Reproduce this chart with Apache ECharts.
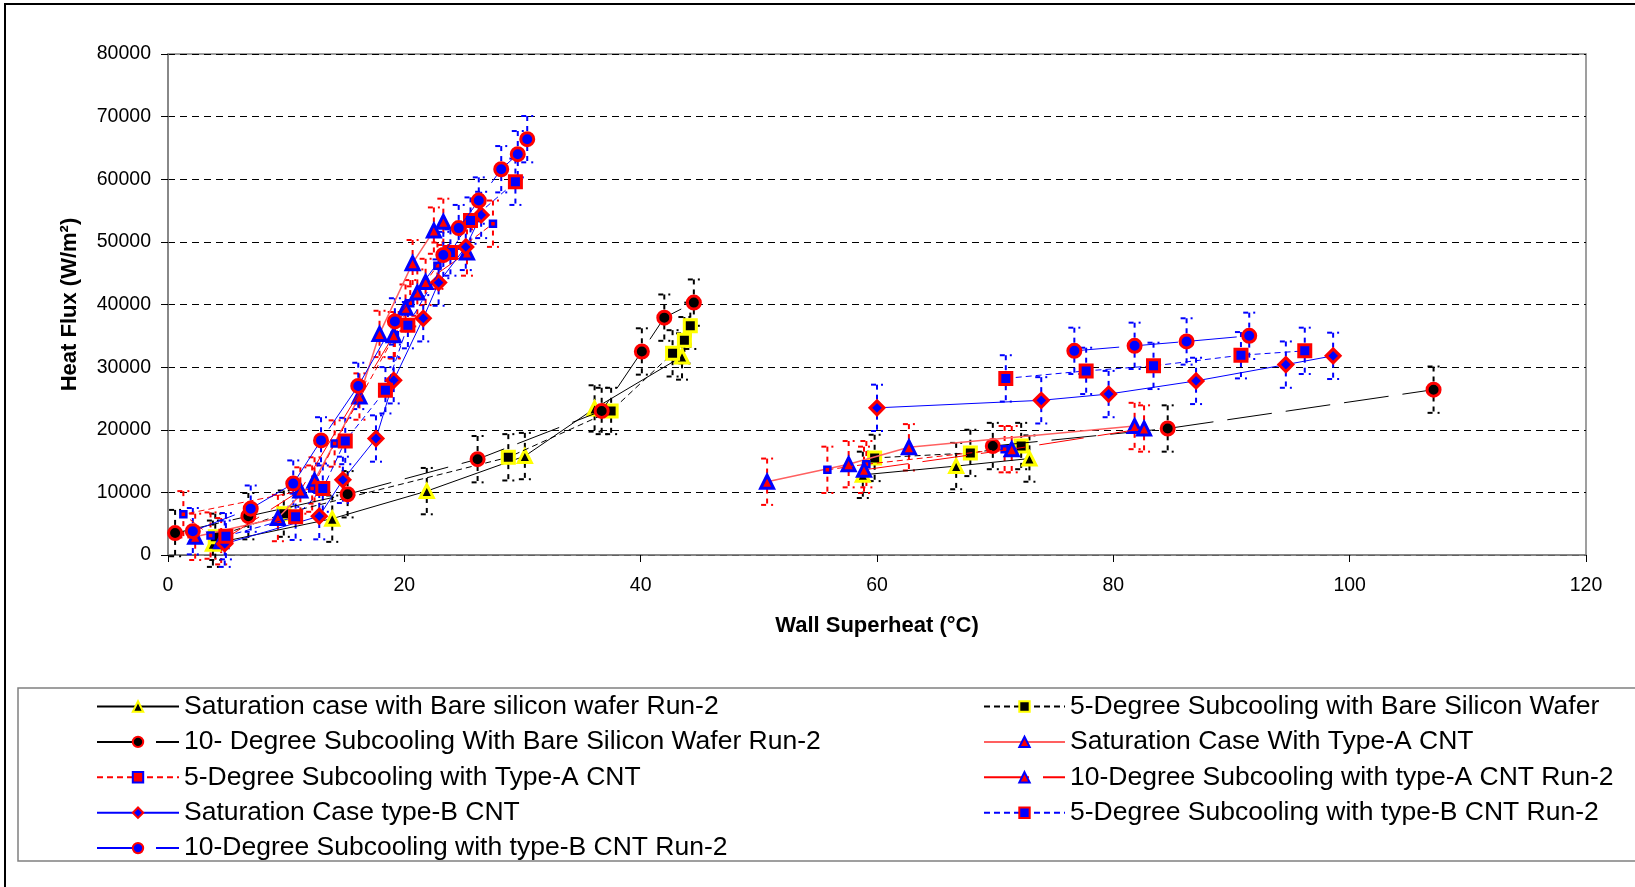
<!DOCTYPE html>
<html><head><meta charset="utf-8">
<script src="https://cdn.jsdelivr.net/npm/echarts@6/dist/echarts.min.js"></script>
<style>html,body{margin:0;padding:0;background:#fff}#c{width:1635px;height:887px}</style>
</head><body><div id="c"></div>
<script>
// ---------- DATA ----------
const seriesNames = [
  'Saturation case with Bare silicon wafer Run-2',
  '5-Degree Subcooling with Bare Silicon Wafer',
  '10- Degree Subcooling With Bare Silicon Wafer Run-2',
  'Saturation Case With Type-A CNT',
  '5-Degree Subcooling with Type-A CNT',
  '10-Degree Subcooling with type-A CNT Run-2',
  'Saturation Case type-B CNT',
  '5-Degree Subcooling with type-B CNT Run-2',
  '10-Degree Subcooling with type-B CNT Run-2'
];
// null splits the low-superheat branch from the high-superheat branch
const satBareX = [3.8, 13.9, 21.9, 30.2, 36.1, 43.5, null, 58.8, 66.7, 72.9];
const satBareY = [1800, 5800, 10200, 15800, 23400, 31700, null, 12800, 14200, 15400];
const fiveBareX = [4.0, 9.8, 28.8, 37.5, 42.7, 43.7, 44.2, null, 59.8, 67.9, 72.2];
const fiveBareY = [2900, 6600, 15600, 23000, 32200, 34300, 36600, null, 15500, 16300, 17400];
const tenBareX = [0.6, 6.8, 15.2, 26.2, 36.7, 40.1, 42.0, 44.5, null, 69.8, 84.6, 107.1];
const tenBareY = [3500, 6200, 9700, 15300, 23000, 32500, 37900, 40300, null, 17400, 20200, 26400];
const satAX = [2.3, 9.3, 12.4, 16.2, 17.9, 20.7, 22.5, 23.3, null, 50.7, 57.6, 62.7, 81.8];
const satAY = [2900, 5900, 11900, 25300, 35300, 46600, 51800, 53200, null, 11700, 14500, 17200, 20600];
const fiveAX = [3.6, 1.3, 12.2, 14.1, 19.2, 20.5, 22.8, 27.5, null, 55.8, 59.1, 70.8];
const fiveAY = [3100, 6500, 10600, 17800, 35100, 40200, 46200, 52900, null, 13600, 14500, 16900];
const tenAX = [4.5, 11.2, 19.1, 20.1, 21.1, 21.8, 25.3, null, 58.9, 71.4, 82.6];
const tenAY = [2200, 10300, 35100, 39500, 41900, 43600, 48300, null, 13600, 16900, 20200];
const satBX = [4.8, 12.8, 14.8, 17.6, 19.1, 21.6, 22.9, 25.2, 26.5, null, 60.0, 73.9, 79.6, 87.0, 94.6, 98.6];
const satBY = [1800, 6200, 12000, 18600, 27900, 37800, 43500, 49200, 54300, null, 23500, 24700, 25700, 27800, 30400, 31800];
const fiveBX = [4.9, 10.8, 13.1, 15.0, 18.4, 20.3, 23.9, 25.6, 29.4, null, 70.9, 77.7, 83.4, 90.8, 96.2];
const fiveBY = [3000, 6100, 10600, 18200, 26300, 36700, 48300, 53400, 59600, null, 28200, 29400, 30200, 31900, 32600];
const tenBX = [2.1, 7.0, 10.6, 12.95, 16.1, 19.2, 23.3, 24.6, 26.3, 28.2, 29.6, 30.4, null, 76.7, 81.8, 86.2, 91.5];
const tenBY = [3800, 7400, 11400, 18300, 27000, 37300, 47900, 52200, 56600, 61600, 64000, 66400, null, 32600, 33400, 34100, 35000];
const heatFluxError = 3700; // +/- W/m2 error bar half-length

// ---------- STYLES ----------
const FONT = '"Liberation Sans", Arial, sans-serif';
const styles = [
  {line:'#000000', w:1, dash:'solid', sym:'triangle', size:13, fill:'#000000', border:'#ffff00', bw:3},
  {line:'#000000', w:1, dash:[6,4], sym:'rect', size:12, fill:'#000000', border:'#ffff00', bw:3},
  {line:'#000000', w:1, dash:[45,14], sym:'circle', size:13, fill:'#000000', border:'#ff0000', bw:3},
  {line:'#ff6060', w:1.5, dash:'solid', sym:'triangle', size:13, fill:'#ff0000', border:'#0000ff', bw:3},
  {line:'#ff0000', w:1, dash:[6,4], sym:'rect', size:6, fill:'#ff0000', border:'#0000ff', bw:2.5},
  {line:'#ff0000', w:1, dash:[45,14], sym:'triangle', size:13, fill:'#ff0000', border:'#0000ff', bw:3},
  {line:'#0000ff', w:1, dash:'solid', sym:'diamond', size:14, fill:'#0000ff', border:'#ff0000', bw:3},
  {line:'#0000ff', w:1, dash:[6,4], sym:'rect', size:12, fill:'#0000ff', border:'#ff0000', bw:3},
  {line:'#0000ff', w:1, dash:[45,14], sym:'circle', size:13, fill:'#0000ff', border:'#ff0000', bw:3}
];
const errColors = ['#000','#000','#000','#f00','#f00','#f00','#00f','#00f','#00f'];
const xsAll = [satBareX, fiveBareX, tenBareX, satAX, fiveAX, tenAX, satBX, fiveBX, tenBX];
const ysAll = [satBareY, fiveBareY, tenBareY, satAY, fiveAY, tenAY, satBY, fiveBY, tenBY];

const errSeries = xsAll.map((xs, i) => ({
  type: 'custom', name: 'err' + i, z: 1, silent: true,
  encode: {x: 0, y: 1},
  data: xs.map((x, j) => [x, ysAll[i][j], heatFluxError]).filter(d => d[0] !== null),
  renderItem: function (params, api) {
    const x = api.value(0), y = api.value(1), e = api.value(2);
    const t = api.coord([x, y + e]), b = api.coord([x, y - e]);
    const cw = 6;
    const st = {stroke: errColors[i], lineWidth: 2, lineDash: [5, 5], fill: null};
    return {type: 'group', children: [
      {type: 'line', shape: {x1: t[0], y1: t[1], x2: b[0], y2: b[1]}, style: st},
      {type: 'line', shape: {x1: t[0] - cw, y1: t[1], x2: t[0] + cw, y2: t[1]}, style: st},
      {type: 'line', shape: {x1: b[0] - cw, y1: b[1], x2: b[0] + cw, y2: b[1]}, style: st}
    ]};
  }
}));

const lineSeries = xsAll.map((xs, i) => {
  const s = styles[i];
  return {
    type: 'line', name: seriesNames[i], z: 2 + i,
    data: xs.map((x, j) => [x, ysAll[i][j]]),
    connectNulls: false,
    symbol: s.sym, symbolSize: s.size, showAllSymbol: true,
    lineStyle: {color: s.line, width: s.w, type: s.dash},
    itemStyle: {color: s.fill, borderColor: s.border, borderWidth: s.bw},
    emphasis: {disabled: true},
    animation: false
  };
});

const legendCommon = {
  orient: 'vertical', itemHeight: 13, itemGap: 8.4, padding: 0,
  textStyle: {fontFamily: FONT, fontSize: 26.5, color: '#000', lineHeight: 26},
  selectedMode: false
};

const option = {
  animation: false,
  backgroundColor: '#fff',
  grid: {left: 168, right: 49, top: 54, bottom: 332, show: true, borderColor: '#808080', borderWidth: 1.5, containLabel: false},
  xAxis: {
    type: 'value', min: 0, max: 120, interval: 20,
    name: 'Wall Superheat (°C)', nameLocation: 'middle', nameGap: 60,
    nameTextStyle: {fontFamily: FONT, fontSize: 22, fontWeight: 'bold', color: '#000'},
    axisLine: {show: true, lineStyle: {color: '#808080', width: 1.5}},
    axisTick: {show: true, length: 7, lineStyle: {color: '#000'}},
    axisLabel: {fontFamily: FONT, fontSize: 19.5, color: '#000', margin: 21},
    splitLine: {show: false}
  },
  yAxis: {
    type: 'value', min: 0, max: 80000, interval: 10000,
    name: 'Heat Flux (W/m²)', nameLocation: 'middle', nameGap: 87, nameRotate: 90,
    nameTextStyle: {fontFamily: FONT, fontSize: 22, fontWeight: 'bold', color: '#000'},
    axisLine: {show: true, lineStyle: {color: '#808080', width: 1.5}},
    axisTick: {show: true, length: 7, lineStyle: {color: '#000'}},
    axisLabel: {fontFamily: FONT, fontSize: 19.5, color: '#000', margin: 17,
      formatter: v => String(v)},
    splitLine: {show: true, lineStyle: {color: '#000', width: 1, type: [7, 5]}}
  },
  legend: [
    Object.assign({}, legendCommon, {left: 96, top: 693, itemWidth: 82,
      data: [seriesNames[0], seriesNames[2], seriesNames[4], seriesNames[6], seriesNames[8]]}),
    Object.assign({}, legendCommon, {left: 983, top: 693, itemWidth: 81,
      data: [seriesNames[1], seriesNames[3], seriesNames[5], seriesNames[7]]})
  ],
  graphic: [
    {type: 'rect', z: -10, silent: true, shape: {x: 5, y: 4, width: 1660, height: 920},
      style: {fill: null, stroke: '#000', lineWidth: 2}},
    {type: 'rect', z: -10, silent: true, shape: {x: 18, y: 688, width: 1660, height: 173},
      style: {fill: null, stroke: '#808080', lineWidth: 1.5}}
  ],
  series: errSeries.concat(lineSeries)
};
const chart = echarts.init(document.getElementById('c'));
chart.setOption(option);
</script>
</body></html>
